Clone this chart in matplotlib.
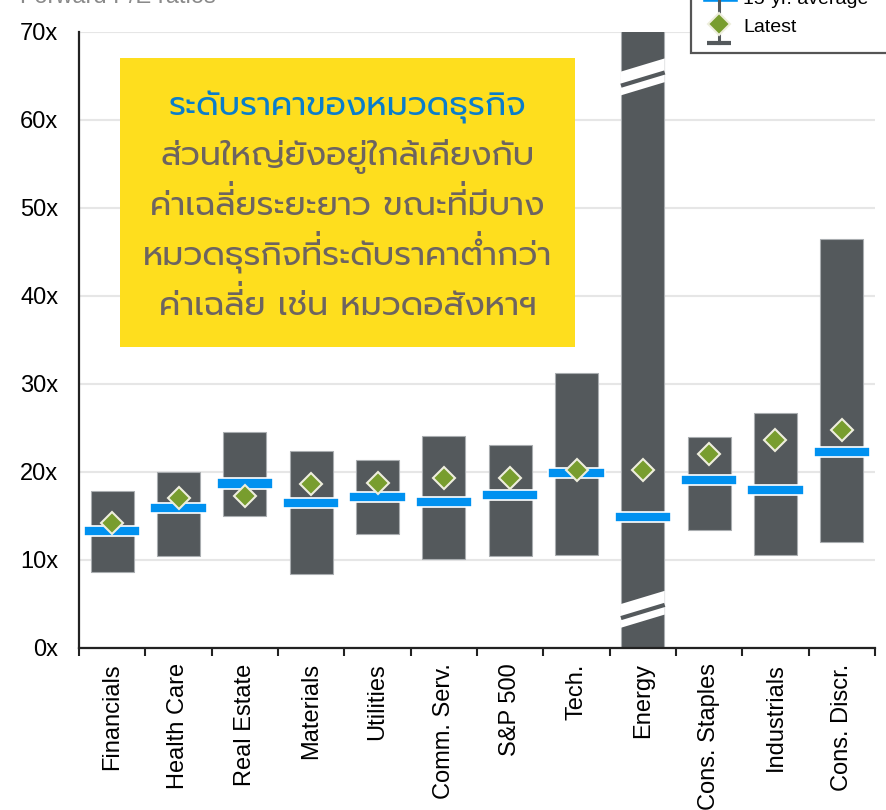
import matplotlib
matplotlib.use("Agg")
import matplotlib.pyplot as plt
from matplotlib.patches import Rectangle
import numpy as np

plt.rcParams['font.family'] = ['Liberation Sans', 'DejaVu Sans']

# ข้อมูล P/E รายหมวด (อ่านจากภาพ)
sectors = ['Financials', 'Health Care', 'Real Estate', 'Materials', 'Utilities',
           'Comm. Serv.', 'S&P 500', 'Tech.', 'Energy', 'Cons. Staples',
           'Industrials', 'Cons. Discr.']
range_low = [8.6, 10.4, 15.0, 8.4, 13.0, 10.1, 10.4, 10.6, 0.0, 13.4, 10.6, 12.1]
range_high = [17.8, 20.0, 24.6, 22.4, 21.4, 24.1, 23.1, 31.2, 80.0, 24.0, 26.7, 46.5]
avg_15yr = [13.3, 15.9, 18.7, 16.5, 17.2, 16.6, 17.4, 19.9, 14.9, 19.1, 18.0, 22.3]
latest = [14.2, 17.0, 17.3, 18.6, 18.8, 19.3, 19.3, 20.2, 20.2, 22.0, 23.6, 24.8]
ytick_vals = [0, 10, 20, 30, 40, 50, 60, 70]

note_lines = ['ระดับราคาของหมวดธุรกิจ',
              'ส่วนใหญ่ยังอยู่ใกล้เคียงกับ',
              'ค่าเฉลี่ยระยะยาว ขณะที่มีบาง',
              'หมวดธุรกิจที่ระดับราคาต่ำกว่า',
              'ค่าเฉลี่ย เช่น หมวดอสังหาฯ']

GREY = '#54595C'
BLUE = '#0091F0'
GREEN = '#789D2E'
THAI = ['Prompt', 'DejaVu Sans']
TONES = '\u0e48\u0e49\u0e4a\u0e4b'
UPPER = '\u0e31\u0e34\u0e35\u0e36\u0e37\u0e47'

fig = plt.figure(figsize=(8.86, 8.1), dpi=100)
ax = fig.add_axes([79 / 886, 162 / 810, 796 / 886, 616 / 810])

x = np.arange(len(sectors))
lo = np.array(range_low)
hi = np.array(range_high)

ax.bar(x, hi - lo, bottom=lo, width=0.65, color=GREY, edgecolor='#A9ADB0',
       linewidth=0.8, zorder=2)
ax.bar(x, 1.15, bottom=np.array(avg_15yr) - 0.575, width=0.85, color=BLUE,
       edgecolor='white', linewidth=1.2, zorder=3)
ax.plot(x, latest, linestyle='none', marker='D', markersize=11.5,
        markerfacecolor=GREEN, markeredgecolor='#EEEEDD', markeredgewidth=1.5,
        zorder=4)

# เครื่องหมายตัดแกนของหมวดพลังงาน
ie = sectors.index('Energy')
for yb in [62.8, 2.3]:
    xs = [ie - 0.33, ie + 0.33, ie + 0.33, ie - 0.33]
    ys = [yb, yb + 1.5, yb + 1.5 + 2.7, yb + 2.7]
    ax.fill(xs, ys, color='white', zorder=2.5, linewidth=0)
    ax.plot([ie - 0.33, ie + 0.33], [yb + 1.1, yb + 2.6], color=GREY,
            linewidth=3, zorder=2.6, solid_capstyle='butt')

ax.set_xlim(-0.5, len(sectors) - 0.5)
ax.set_ylim(0, 70)
ax.set_yticks(ytick_vals)
ax.set_yticklabels([f'{v}x' for v in ytick_vals], fontsize=17)
ax.tick_params(axis='y', length=0, pad=15)
ax.set_xticks(x)
ax.set_xticklabels(sectors, rotation=90, fontsize=17)
ax.set_xticks(np.arange(-0.5, len(sectors), 1), minor=True)
ax.tick_params(axis='x', which='major', length=0, pad=11)
ax.tick_params(axis='x', which='minor', length=6, width=1.5, color='#222222')
ax.grid(axis='y', color='#E6E6E6', linewidth=1.5, zorder=0)
ax.set_axisbelow(True)
for s in ['top', 'right']:
    ax.spines[s].set_visible(False)
for s in ['left', 'bottom']:
    ax.spines[s].set_linewidth(1.6)
    ax.spines[s].set_color('#222222')

# ชั้นซ้อนสำหรับกล่องข้อความ ตำนาน และชื่อกราฟ (พิกัดพิกเซล)
ov = fig.add_axes([0, 0, 1, 1])
ov.set_xlim(0, 886)
ov.set_ylim(810, 0)
ov.axis('off')
ov.patch.set_alpha(0)

ov.text(20, 3, 'Forward P/E ratios', color='#8A8A8A', fontsize=17, va='baseline')

ov.add_patch(Rectangle((120, 58), 455, 289, facecolor='#FEDE1E', edgecolor='none'))

# matplotlib ไม่จัดวรรณยุกต์ซ้อนสระบน จึงแยกวรรณยุกต์ที่ซ้อนออกมาวางเอง
renderer = fig.canvas.get_renderer()
fs = 24
for i, line in enumerate(note_lines):
    col = '#0A7DCB' if i == 0 else '#6D6460'
    yb = 115 + 50 * i
    shown = ''
    stacked = []  # (ดัชนีพยัญชนะฐานใน shown, วรรณยุกต์)
    for j, ch in enumerate(line):
        nxt = line[j + 1] if j + 1 < len(line) else ''
        prv = line[j - 1] if j > 0 else ''
        if ch in TONES and (prv in UPPER or nxt == '\u0e33'):
            base = len(shown) - (2 if prv in UPPER else 1)
            stacked.append((base, ch))
            continue
        shown += ch
    t = ov.text(347.5, yb, shown, ha='center', va='baseline', fontsize=fs,
                family=THAI, color=col)
    left = t.get_window_extent(renderer).x0
    for base, mark in stacked:
        tmp = ov.text(0, 0, shown[:base + 1], fontsize=fs, family=THAI)
        w = tmp.get_window_extent(renderer).width
        tmp.remove()
        ov.text(left + w - 1, yb - 9, mark, ha='right', va='baseline',
                fontsize=fs, family=THAI, color=col)

# ตำนาน
ov.add_patch(Rectangle((691.5, -20), 230, 73.3, facecolor='white',
                       edgecolor='#555555', linewidth=1.6))
ov.plot([719, 719], [-10, 43], color=GREY, linewidth=2.2)
ov.plot([707, 731], [43, 43], color=GREY, linewidth=3, solid_capstyle='butt')
ov.add_patch(Rectangle((702, -10), 36, 12, facecolor=BLUE, edgecolor='white',
                       linewidth=1))
ov.plot([719], [24], linestyle='none', marker='D', markersize=11.5,
        markerfacecolor=GREEN, markeredgecolor='#EEEEDD', markeredgewidth=1.5)
ov.text(743, 0, '15-yr. average', fontsize=14, va='center')
ov.text(743, 27, 'Latest', fontsize=14, va='center')

fig.savefig('out.png', dpi=100)
